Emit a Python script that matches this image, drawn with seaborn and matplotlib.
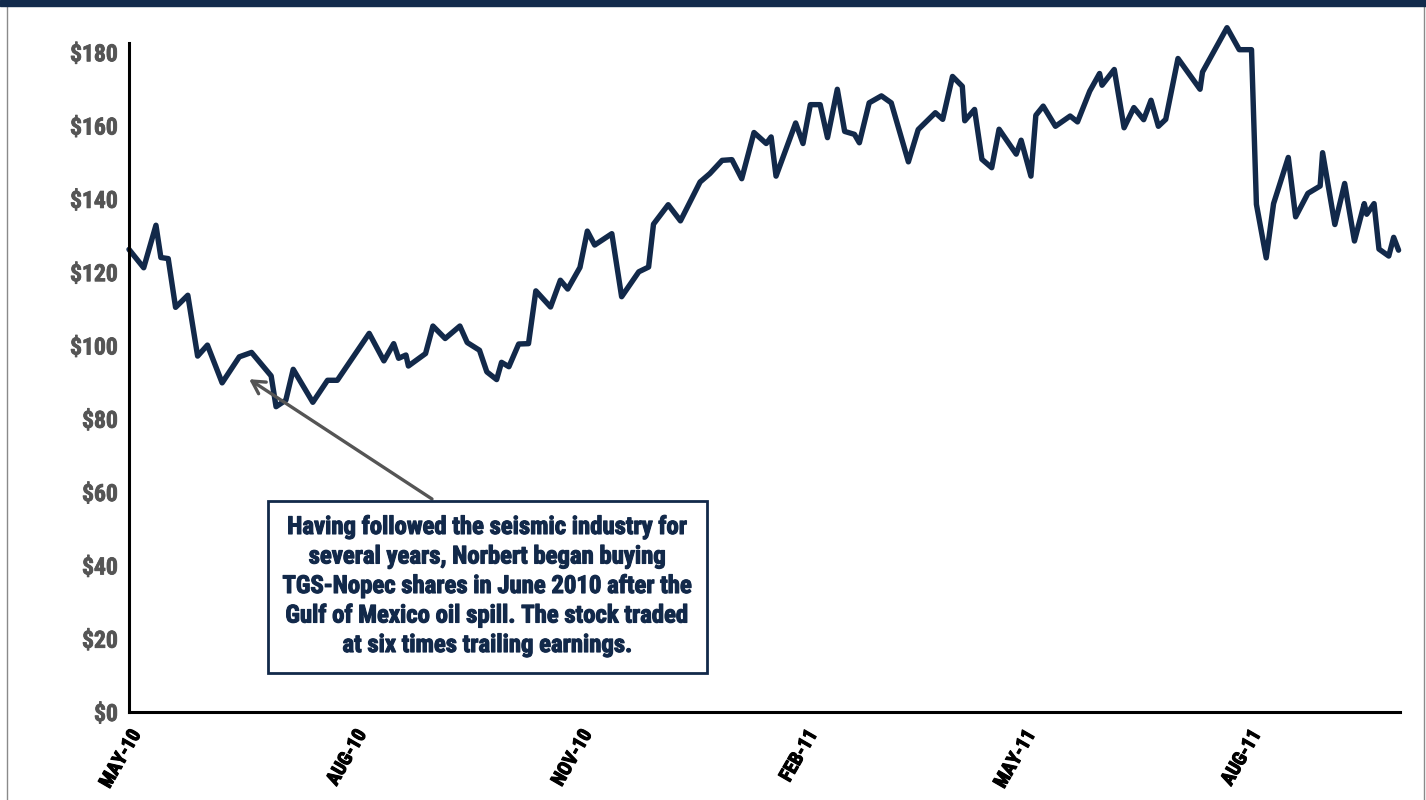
import matplotlib
matplotlib.use("Agg")
import matplotlib.pyplot as plt
import matplotlib.patches as patches
import matplotlib.patheffects as pe
import matplotlib.transforms as mtransforms
from matplotlib import font_manager
import seaborn as sns
import pandas as pd

dates = [
    "2010-05-01", "2010-05-07", "2010-05-12", "2010-05-14", "2010-05-17", "2010-05-20",
    "2010-05-25", "2010-05-29", "2010-06-02", "2010-06-08", "2010-06-15", "2010-06-20",
    "2010-06-28", "2010-06-30", "2010-07-04", "2010-07-07", "2010-07-15", "2010-07-21",
    "2010-07-25", "2010-08-07", "2010-08-13", "2010-08-17", "2010-08-19", "2010-08-22",
    "2010-08-23", "2010-08-30", "2010-09-02", "2010-09-07", "2010-09-13", "2010-09-16",
    "2010-09-21", "2010-09-24", "2010-09-28", "2010-09-30", "2010-10-03", "2010-10-07",
    "2010-10-11", "2010-10-14", "2010-10-20", "2010-10-24", "2010-10-27", "2010-11-01",
    "2010-11-04", "2010-11-07", "2010-11-14", "2010-11-18", "2010-11-25", "2010-11-29",
    "2010-12-01", "2010-12-07", "2010-12-12", "2010-12-20", "2010-12-24", "2010-12-29",
    "2011-01-02", "2011-01-06", "2011-01-11", "2011-01-16", "2011-01-18", "2011-01-20",
    "2011-01-28", "2011-01-31", "2011-02-03", "2011-02-07", "2011-02-10", "2011-02-14",
    "2011-02-17", "2011-02-21", "2011-02-23", "2011-02-27", "2011-03-04", "2011-03-08",
    "2011-03-15", "2011-03-19", "2011-03-26", "2011-03-29", "2011-04-02", "2011-04-06",
    "2011-04-07", "2011-04-11", "2011-04-14", "2011-04-18", "2011-04-21", "2011-04-25",
    "2011-04-28", "2011-04-30", "2011-05-04", "2011-05-06", "2011-05-09", "2011-05-14",
    "2011-05-20", "2011-05-23", "2011-05-28", "2011-06-01", "2011-06-02", "2011-06-07",
    "2011-06-11", "2011-06-15", "2011-06-19", "2011-06-22", "2011-06-25", "2011-06-28",
    "2011-07-03", "2011-07-12", "2011-07-13", "2011-07-23", "2011-07-28", "2011-08-02",
    "2011-08-04", "2011-08-08", "2011-08-11", "2011-08-17", "2011-08-20", "2011-08-25",
    "2011-08-30", "2011-08-31", "2011-09-05", "2011-09-09", "2011-09-13", "2011-09-17",
    "2011-09-18", "2011-09-21", "2011-09-23", "2011-09-27", "2011-09-29", "2011-10-01",
]
prices = [
    126.2, 121.2, 132.8, 124.0, 123.7, 110.4,
    113.7, 97.1, 100.1, 89.8, 96.9, 98.1,
    91.7, 83.3, 85.1, 93.5, 84.5, 90.5,
    90.5, 103.3, 95.8, 100.5, 96.5, 97.4,
    94.4, 97.8, 105.3, 101.9, 105.3, 100.8,
    98.7, 92.8, 90.7, 95.4, 94.2, 100.4,
    100.5, 114.9, 110.5, 117.8, 115.4, 121.3,
    131.2, 127.4, 130.5, 113.3, 120.1, 121.4,
    133.1, 138.4, 134.0, 144.6, 146.9, 150.5,
    150.7, 145.5, 158.1, 155.1, 156.9, 146.2,
    160.7, 155.1, 165.7, 165.7, 156.7, 169.9,
    158.4, 157.6, 155.3, 166.2, 168.1, 166.2,
    150.1, 158.9, 163.5, 161.7, 173.4, 170.7,
    161.3, 164.4, 150.8, 148.5, 159.0, 155.1,
    152.2, 156.0, 146.2, 162.8, 165.3, 159.8,
    162.6, 161.0, 169.4, 174.2, 171.0, 175.3,
    159.4, 164.9, 161.6, 166.9, 159.8, 161.7,
    178.3, 169.9, 174.6, 186.7, 180.7, 180.7,
    138.5, 123.9, 138.7, 151.3, 135.1, 141.5,
    143.5, 152.6, 133.0, 144.2, 128.5, 138.7,
    135.8, 138.7, 126.3, 124.4, 129.5, 126.0,
]

tick_dates = ["2010-05-01", "2010-08-01", "2010-11-01", "2011-02-01", "2011-05-01", "2011-08-01"]
tick_labels = ["MAY-10", "AUG-10", "NOV-10", "FEB-11", "MAY-11", "AUG-11"]
y_ticks = [0, 20, 40, 60, 80, 100, 120, 140, 160, 180]

note = ("Having followed the seismic industry for\n"
        "several years, Norbert began buying\n"
        "TGS-Nopec shares in June 2010 after the\n"
        "Gulf of Mexico oil spill. The stock traded\n"
        "at six times trailing earnings.")
note_target = ("2010-06-19", 90.8)

NAVY = "#12294a"
GREY = "#555555"

sns.set_style("white")
available = {f.name for f in font_manager.fontManager.ttflist}
font = next((n for n in ["Roboto Condensed", "Liberation Sans Narrow", "Open Sans Condensed",
                         "DejaVu Sans"] if n in available), "DejaVu Sans")
plt.rcParams["font.family"] = [font, "DejaVu Sans"]
plt.rcParams["font.stretch"] = "condensed"

df = pd.DataFrame({"date": pd.to_datetime(dates), "price": prices})

fig = plt.figure(figsize=(14.26, 8), dpi=100)
ax = fig.add_axes([129 / 1426, 0.11, (1400 - 129) / 1426, 0.8366])

sns.lineplot(data=df, x="date", y="price", ax=ax, color=NAVY, linewidth=3.9,
             estimator=None, clip_on=False)

ax.set_xlim(pd.Timestamp("2010-05-01"), pd.Timestamp("2011-10-01 14:00"))
ax.set_ylim(0, 182.6)
ax.set_yticks(y_ticks)
ax.set_yticklabels([f"${v}" for v in y_ticks], fontsize=17, fontweight="bold", color=GREY)
ax.set_xticks(pd.to_datetime(tick_dates))
ax.set_xticklabels(tick_labels, fontsize=14, fontweight="bold", color="black",
                   rotation=60, ha="right", va="center", rotation_mode="anchor")
ax.tick_params(axis="both", length=0)
ax.tick_params(axis="y", pad=8)
ax.tick_params(axis="x", pad=14)

# nudge the rotated month labels to the right (after tick_params, which resets transforms)
shift = mtransforms.ScaledTranslation(8 / 100, 0, fig.dpi_scale_trans)
for lab in ax.get_xticklabels():
    lab.set_transform(lab.get_transform() + shift)
    lab.set_path_effects([pe.withStroke(linewidth=0.8, foreground="black")])
for lab in ax.get_yticklabels():
    lab.set_path_effects([pe.withStroke(linewidth=0.6, foreground=GREY)])

ax.set_xlabel("")
ax.set_ylabel("")
for side in ["top", "right"]:
    ax.spines[side].set_visible(False)
for side in ["left", "bottom"]:
    ax.spines[side].set_color("black")
    ax.spines[side].set_linewidth(2.2)

# callout box and arrow
fig.patches.append(patches.Rectangle((268 / 1426, 1 - 673 / 800), 439 / 1426, 172 / 800,
                                     transform=fig.transFigure, fill=False,
                                     edgecolor=NAVY, linewidth=2))
fig.text(487.5 / 1426, 1 - 586 / 800, note, ha="center", va="center", fontsize=17.8,
         fontweight="bold", color=NAVY, linespacing=1.29,
         path_effects=[pe.withStroke(linewidth=0.8, foreground=NAVY)])
ax.annotate("", xy=(pd.Timestamp(note_target[0]), note_target[1]),
            xytext=(432, 800 - 499), textcoords="figure pixels",
            arrowprops=dict(arrowstyle="->,head_length=0.9,head_width=0.5",
                            color=GREY, lw=2.4, shrinkA=0, shrinkB=0))

# page frame and top band
fig.patches.append(patches.Rectangle((7 / 1426, -0.01), (1424 - 7) / 1426, 1.02,
                                     transform=fig.transFigure, fill=False,
                                     edgecolor="#8a8a8a", linewidth=1))
fig.patches.append(patches.Rectangle((0, 1 - 6 / 800), 1, 6 / 800,
                                     transform=fig.transFigure, color="#132b4c"))

fig.savefig("out.png", dpi=100)
plt.close(fig)
